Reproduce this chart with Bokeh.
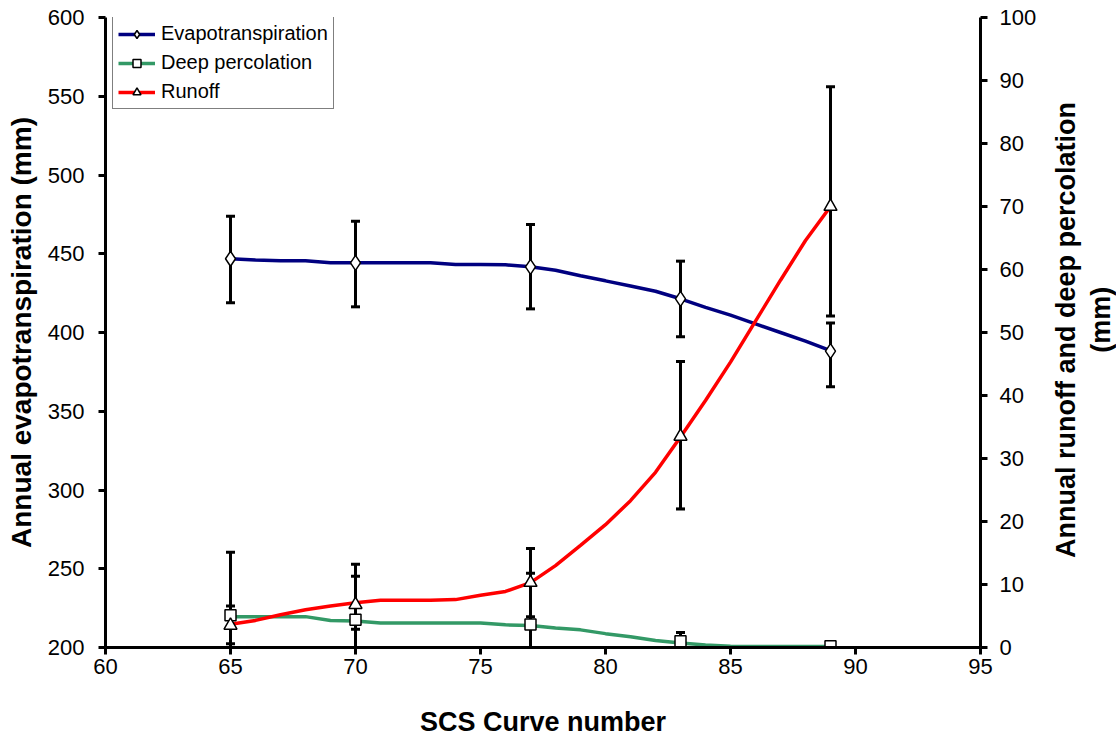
import numpy as np
from bokeh.plotting import figure
from bokeh.layouts import row
from bokeh.models import (Range1d, LinearAxis, FixedTicker, Whisker, ColumnDataSource,
                          Legend, LegendItem, TeeHead, Label)
from bokeh.embed import file_html
from bokeh.resources import INLINE

# ---- data ----
cn_line = [65, 66, 67, 68, 69, 70, 71, 72, 73, 74, 75, 76, 77,
           78, 79, 80, 81, 82, 83, 84, 85, 86, 87, 88, 89]
et_line = [446.8, 446.0, 445.5, 445.5, 444.3, 444.3, 444.3, 444.3, 444.3, 443.2, 443.2, 443.0, 441.7,
           439.5, 436.0, 432.8, 429.5, 426.2, 421.4, 416.0, 411.0, 405.5, 400.0, 394.5, 388.5]
dp_line = [4.9, 4.9, 4.9, 4.9, 4.3, 4.2, 3.9, 3.9, 3.9, 3.9, 3.9, 3.6, 3.5,
           3.1, 2.8, 2.2, 1.7, 1.1, 0.7, 0.4, 0.2, 0.15, 0.15, 0.15, 0.15]
ro_line = [3.7, 4.3, 5.2, 6.0, 6.6, 7.1, 7.5, 7.5, 7.5, 7.6, 8.3, 8.9, 10.3,
           13.0, 16.2, 19.5, 23.3, 27.8, 33.4, 39.2, 45.3, 51.8, 58.3, 64.6, 70.0]

cn_pts = [65, 70, 77, 83, 89]
et_mean = [446.8, 444.2, 441.7, 421.4, 388.2]
et_lo = [418.9, 416.3, 415.0, 397.3, 365.5]
et_hi = [473.8, 470.7, 468.6, 445.3, 406.0]
dp_mean = [5.1, 4.4, 3.65, 1.0, 0.2]
dp_lo = [0.0, 0.0, 0.0, 0.0, 0.2]
dp_hi = [15.1, 13.2, 11.8, 2.4, 0.2]
ro_mean = [3.5, 6.8, 10.3, 33.5, 70.0]
ro_lo = [0.6, 2.9, 4.9, 22.0, 52.6]
ro_hi = [6.6, 11.3, 15.7, 45.4, 89.0]

x_ticks = [60, 65, 70, 75, 80, 85, 90, 95]
left_ticks = [200, 250, 300, 350, 400, 450, 500, 550, 600]
right_ticks = [0, 10, 20, 30, 40, 50, 60, 70, 80, 90, 100]

right_title_lines = ["Annual runoff and deep percolation", "(mm)"]

FONT = "Liberation Sans"

p = figure(width=1045, height=740, x_range=Range1d(60, 95), y_range=Range1d(200, 600),
           output_backend="svg", toolbar_location=None,
           min_border_left=105, min_border_right=65, min_border_top=17, min_border_bottom=93)
p.extra_y_ranges = {"right": Range1d(0, 100)}
p.outline_line_color = None
p.xgrid.visible = False
p.ygrid.visible = False
p.background_fill_color = "white"

right_axis = LinearAxis(y_range_name="right", ticker=FixedTicker(ticks=right_ticks))
p.add_layout(right_axis, "right")

p.xaxis.ticker = FixedTicker(ticks=x_ticks)
p.yaxis[0].ticker = FixedTicker(ticks=left_ticks)

for ax in [p.xaxis[0], p.yaxis[0], right_axis]:
    ax.axis_line_width = 3
    ax.axis_line_color = "black"
    ax.major_tick_line_width = 3
    ax.major_tick_line_color = "black"
    ax.major_tick_out = 7
    ax.major_tick_in = 0
    ax.minor_tick_line_color = None
    ax.major_label_text_font = FONT
    ax.major_label_text_font_size = "22px"
    ax.major_label_text_color = "black"
    ax.axis_label_text_font = FONT
    ax.axis_label_text_font_style = "bold"
    ax.axis_label_text_color = "black"

p.xaxis[0].major_label_standoff = 4
p.xaxis[0].axis_label = "SCS Curve number"
p.xaxis[0].axis_label_text_font_size = "27px"
p.xaxis[0].axis_label_standoff = 30

p.yaxis[0].major_label_standoff = 14
p.yaxis[0].axis_label = "Annual evapotranspiration (mm)"
p.yaxis[0].axis_label_text_font_size = "28px"
p.yaxis[0].axis_label_standoff = 8

right_axis.major_label_standoff = 12

# error bars
et_src = ColumnDataSource(dict(x=cn_pts, y=et_mean, lo=et_lo, hi=et_hi))
dp_src = ColumnDataSource(dict(x=cn_pts, y=dp_mean, lo=dp_lo, hi=dp_hi))
ro_src = ColumnDataSource(dict(x=cn_pts, y=ro_mean, lo=ro_lo, hi=ro_hi))

def whisk(src, yname="default"):
    w = Whisker(base="x", lower="lo", upper="hi", source=src, line_color="black", line_width=3,
                upper_head=TeeHead(size=9, line_width=3, line_color="black"),
                lower_head=TeeHead(size=9, line_width=3, line_color="black"),
                y_range_name=yname, level="underlay")
    p.add_layout(w)

whisk(et_src)
whisk(dp_src, "right")
whisk(ro_src, "right")

# lines
et_l = p.line(cn_line, et_line, line_color="#000080", line_width=3.5)
dp_l = p.line(cn_line, dp_line, line_color="#339966", line_width=3.5, y_range_name="right")
ro_l = p.line(cn_line, ro_line, line_color="#FF0000", line_width=3.5, y_range_name="right")

# markers
et_m = p.scatter("x", "y", source=et_src, marker="diamond", size=15,
                 fill_color="white", line_color="black", line_width=1.5)
dp_m = p.scatter("x", "y", source=dp_src, marker="square", size=11, y_range_name="right",
                 fill_color="white", line_color="black", line_width=1.5)
ro_m = p.scatter("x", "y", source=ro_src, marker="triangle", size=13, y_range_name="right",
                 fill_color="white", line_color="black", line_width=1.5)

legend = Legend(items=[
    LegendItem(label="Evapotranspiration", renderers=[et_l, et_m]),
    LegendItem(label="Deep percolation", renderers=[dp_l, dp_m]),
    LegendItem(label="Runoff", renderers=[ro_l, ro_m]),
], location=(7, 538))
legend.border_line_color = "black"
legend.border_line_width = 1
legend.background_fill_color = "white"
legend.background_fill_alpha = 1
legend.label_text_font = FONT
legend.label_text_font_size = "20px"
legend.label_text_color = "black"
legend.glyph_width = 37
legend.glyph_height = 20
legend.label_height = 20
legend.label_standoff = 6
legend.spacing = 6
legend.padding = 5
legend.margin = 0
p.add_layout(legend)

# narrow companion panel holding the two-line right axis title (reads bottom to top)
p2 = figure(width=71, height=740, x_range=Range1d(0, 71), y_range=Range1d(740, 0),
            output_backend="svg", toolbar_location=None,
            x_axis_location=None, y_axis_location=None,
            min_border_left=0, min_border_right=0, min_border_top=0, min_border_bottom=0)
p2.outline_line_color = None
p2.xgrid.visible = False
p2.ygrid.visible = False
for txt, xc, yc in zip(right_title_lines, [20, 55], [367, 355]):
    p2.add_layout(Label(x=xc, y=yc, text=txt, angle=np.pi / 2,
                        text_align="center", text_baseline="middle",
                        text_font=FONT, text_font_style="bold", text_font_size="27px",
                        text_color="black"))

layout = row(p, p2)
open("out.html", "w").write(file_html(layout, INLINE))
